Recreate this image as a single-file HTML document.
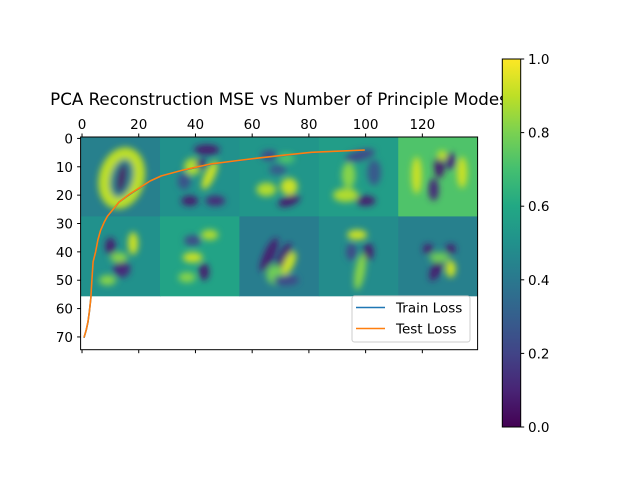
<!DOCTYPE html>
<html><head><meta charset="utf-8"><style>
html,body{margin:0;padding:0;background:#fff;}
svg{display:block;font-family:"DejaVu Sans","Liberation Sans",sans-serif;}
</style></head><body>
<svg id="chart" width="640" height="480" viewBox="0 0 640 480" xmlns="http://www.w3.org/2000/svg">
<defs>
<linearGradient id="viridis" x1="0" y1="1" x2="0" y2="0">
<stop offset="0" stop-color="#440154"/><stop offset="0.1" stop-color="#482475"/><stop offset="0.2" stop-color="#414487"/><stop offset="0.3" stop-color="#355f8d"/><stop offset="0.4" stop-color="#2a788e"/><stop offset="0.5" stop-color="#21918c"/><stop offset="0.6" stop-color="#22a884"/><stop offset="0.7" stop-color="#44bf70"/><stop offset="0.8" stop-color="#7ad151"/><stop offset="0.9" stop-color="#bddf26"/><stop offset="1" stop-color="#fde725"/>
</linearGradient>
<filter id="blur" x="-50%" y="-50%" width="200%" height="200%"><feGaussianBlur stdDeviation="3.2"/></filter>
<clipPath id="axclip"><rect x="80.6" y="137" width="397" height="212.7"/></clipPath>
</defs>
<g id="tiles" clip-path="url(#axclip)"></g>
<g id="lines" clip-path="url(#axclip)"></g>
<rect x="80.6" y="137" width="397" height="212.7" fill="none" stroke="#000" stroke-width="1"/>
<g id="ticks" font-size="13.5" fill="#000"></g>
<text x="279" y="105" font-size="16.7" text-anchor="middle">PCA Reconstruction MSE vs Number of Principle Modes</text>
<rect x="502.3" y="59" width="18.4" height="368" fill="url(#viridis)" stroke="#000" stroke-width="1"/>
<g id="cbticks" font-size="13.5"></g>
<g>
<rect x="352" y="296" width="118" height="46" rx="2.5" fill="#fff" fill-opacity="0.85" stroke="#ccc" stroke-width="1"/>
<line x1="356" y1="307.5" x2="385" y2="307.5" stroke="#1f77b4" stroke-width="1.6"/>
<text x="396" y="312.5" font-size="13.5">Train Loss</text>
<line x1="356" y1="328.5" x2="385" y2="328.5" stroke="#ff7f0e" stroke-width="1.6"/>
<text x="396" y="333.5" font-size="13.5">Test Loss</text>
</g>
</svg>
<script>
const xTicks=[0,20,40,60,80,100,120];
const yTicks=[0,10,20,30,40,50,60,70];
const cbTicks=[0.0,0.2,0.4,0.6,0.8,1.0];
const modes=[0.7,1.5,2.1,2.6,3.1,3.5,3.9,4.8,5.6,6.5,7.8,9,10.9,13,16.8,20,24,28,35,40,45.6,55,63.2,72,80.9,90,99.7];
const trainLoss=[70.3,67.5,64.7,61,56.5,50,43.6,40,35.9,32.5,29.7,27.5,25.2,22.5,19.7,17.7,15.1,13.3,11.4,10.3,9.1,7.9,6.9,5.9,5.0,4.5,4.1];
const testLoss=[70.2,67.4,64.6,61,56.4,50,43.5,40,35.8,32.5,29.6,27.4,25.1,22.5,19.6,17.6,15.0,13.2,11.3,10.2,9.0,7.8,6.8,5.8,4.9,4.5,4.1];
const tileBg=[0.43,0.5,0.52,0.55,0.72,0.5,0.58,0.42,0.48,0.43];
// blobs per tile: [cx,cy,rx,ry,angle,value] in tile units (0-28)
const tileBlobs=[
 [[14,14,8,11,15,0.9],[14,14,4,7,15,0.43],[14,14,1.5,5,10,0.05]],
 [[16,4,4.5,1.8,0,0.08],[11,10,3,3,0,0.88],[17,13,1.8,5.5,25,0.92],[10,22,3,1.8,0,0.08],[19,22,3.5,1.8,0,0.12],[14,9,1.8,1.8,0,0.1],[8,15,2.2,3,0,0.25]],
 [[10,6,3,1.8,0,0.22],[16,7,3,1.8,0,0.72],[9,18,3.5,2.4,0,0.88],[17,17,3,3,0,0.92],[17,22,4,1.8,-20,0.08],[13,11,3,1.8,0,0.28]],
 [[14,6,5.5,1.8,-15,0.22],[10,13,2.4,4.5,0,0.82],[9,20,4.5,2.4,0,0.88],[16,22,3.5,1.8,0,0.08],[19,12,2.4,4.5,0,0.28]],
 [[6,13,1.8,6.5,0,0.92],[22,12,1.8,5.5,0,0.92],[14,10,1.8,4,0,0.08],[18,8,1.8,3,0,0.12],[12,18,1.8,4,0,0.12],[15,6,1.8,1.8,0,0.9]],
 [[18,9,1.8,4,0,0.92],[10,10,1.8,3,0,0.08],[14,18,3,3,-30,0.12],[9,22,3,1.8,0,0.82],[13,14,3,1.8,0,0.82]],
 [[17,6,3,1.8,0,0.88],[11,14,3.5,1.8,0,0.92],[15,19,1.8,3,0,0.08],[9,21,3,1.8,0,0.82],[11,8,3,1.8,0,0.22]],
 [[10,13,1.8,6.5,25,0.08],[15,14,1.8,5.5,25,0.08],[17,16,1.8,4.5,25,0.92],[12,20,3,3.5,0,0.78],[16,22,4.5,1.8,0,0.22]],
 [[13,6,3.5,1.8,0,0.92],[17,12,1.8,3,0,0.08],[14,19,1.8,6.5,10,0.82],[11,12,1.8,3,0,0.22]],
 [[10,11,1.8,1.8,0,0.08],[18,11,1.8,1.8,0,0.08],[13,18,1.8,4.5,25,0.08],[18,18,1.8,3,0,0.92],[14,14,3.5,1.8,0,0.78]]
];
const NS='http://www.w3.org/2000/svg';
const X0=80.6,Y0=137,S=2.836;
function sx(v){return X0+(v+0.5)*S;}
function sy(v){return Y0+(v+0.5)*S;}
const stops=[[0,[68,1,84]],[0.1,[72,36,117]],[0.2,[65,68,135]],[0.3,[53,95,141]],[0.4,[42,120,142]],[0.5,[33,145,140]],[0.6,[34,168,132]],[0.7,[68,191,112]],[0.8,[122,209,81]],[0.9,[189,223,38]],[1,[253,231,37]]];
function vir(t){for(let i=1;i<stops.length;i++){if(t<=stops[i][0]){const a=stops[i-1],b=stops[i],f=(t-a[0])/(b[0]-a[0]);const c=a[1].map((v,k)=>Math.round(v+(b[1][k]-v)*f));return 'rgb('+c.join(',')+')';}}return 'rgb(253,231,37)';}
function mk(tag,attrs,parent){const e=document.createElementNS(NS,tag);for(const k in attrs)e.setAttribute(k,attrs[k]);parent.appendChild(e);return e;}
const tg=document.getElementById('tiles');
tileBg.forEach((bg,i)=>{
 const col=i%5,row=Math.floor(i/5);
 const ox=col*28,oy=row*28;
 const g=mk('g',{},tg);
 
 
 mk('rect',{x:sx(ox-0.5),y:sy(oy-0.5),width:28*S+0.5,height:28*S+0.5,fill:vir(bg)},g);
 const bl=mk('g',{filter:'url(#blur)'},g);
 tileBlobs[i].forEach(b=>{
  const cx=sx(ox+b[0]),cy=sy(oy+b[1]);
  mk('ellipse',{cx:cx,cy:cy,rx:b[2]*S,ry:b[3]*S,transform:'rotate('+b[4]+' '+cx+' '+cy+')',fill:vir(b[5])},bl);
 });
});
const lg=document.getElementById('lines');
function path(xs,ys){return xs.map((x,i)=>(i?'L':'M')+sx(x).toFixed(1)+','+sy(ys[i]).toFixed(1)).join(' ');}
const tr=mk('path',{d:path(modes,trainLoss),fill:'none',stroke:'#1f77b4','stroke-width':1.6,'stroke-linejoin':'round'},lg);


const te=mk('path',{d:path(modes,testLoss),fill:'none',stroke:'#ff7f0e','stroke-width':1.6,'stroke-linejoin':'round'},lg);


const tk=document.getElementById('ticks');
xTicks.forEach(v=>{
 const x=sx(v);
 mk('line',{x1:x,y1:137,x2:x,y2:133.5,stroke:'#000'},tk);
 mk('line',{x1:x,y1:349.7,x2:x,y2:353.2,stroke:'#000'},tk);
 const t=mk('text',{x:x,y:129,'text-anchor':'middle'},tk);
 t.textContent=v;
 
 
});
yTicks.forEach(v=>{
 const y=sy(v);
 mk('line',{x1:80.6,y1:y,x2:77.1,y2:y,stroke:'#000'},tk);
 const t=mk('text',{x:73,y:y+5,'text-anchor':'end'},tk);
 t.textContent=v;
 
 
});
const cg=document.getElementById('cbticks');
cbTicks.forEach(v=>{
 const y=427-v*368;
 mk('line',{x1:520.7,y1:y,x2:524.2,y2:y,stroke:'#000'},cg);
 const t=mk('text',{x:528,y:y+5},cg);
 t.textContent=v.toFixed(1);
 
 
});
</script>
</body></html>
